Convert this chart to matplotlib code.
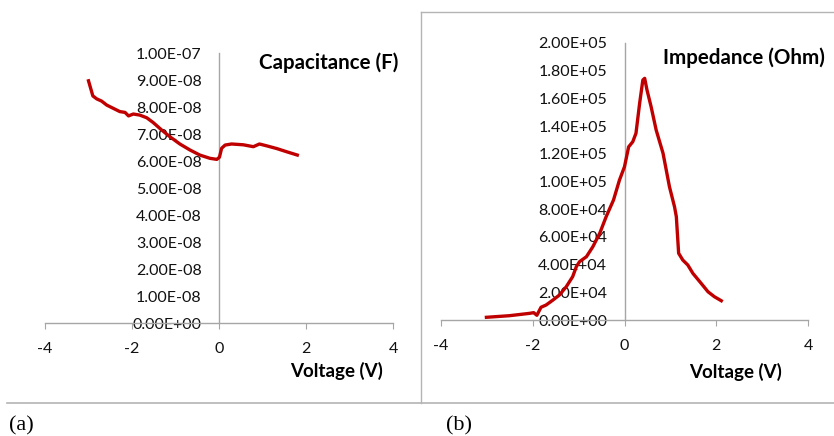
import matplotlib
matplotlib.use("Agg")
import matplotlib.pyplot as plt
from matplotlib.lines import Line2D

# ---- data ----
cap_v = [-3.00, -2.95, -2.90, -2.81, -2.70, -2.58, -2.43, -2.28, -2.16, -2.08, -1.97,
         -1.82, -1.66, -1.51, -1.32, -1.13, -0.90, -0.67, -0.44, -0.21, -0.05, 0.01,
         0.06, 0.14, 0.29, 0.56, 0.79, 0.93, 1.10, 1.33, 1.56, 1.80]
cap_f = [8.97e-8, 8.69e-8, 8.41e-8, 8.30e-8, 8.22e-8, 8.07e-8, 7.95e-8, 7.83e-8, 7.80e-8,
         7.67e-8, 7.74e-8, 7.70e-8, 7.60e-8, 7.42e-8, 7.15e-8, 6.90e-8, 6.63e-8, 6.41e-8,
         6.22e-8, 6.10e-8, 6.06e-8, 6.14e-8, 6.47e-8, 6.59e-8, 6.63e-8, 6.60e-8, 6.53e-8,
         6.63e-8, 6.56e-8, 6.46e-8, 6.34e-8, 6.22e-8]

imp_v = [-3.01, -2.51, -2.07, -1.98, -1.91, -1.82, -1.71, -1.56, -1.42, -1.27, -1.13,
         -1.05, -0.98, -0.83, -0.69, -0.54, -0.40, -0.24, -0.11, 0.00, 0.09, 0.18, 0.25,
         0.33, 0.40, 0.44, 0.49, 0.58, 0.69, 0.84, 0.98, 1.09, 1.13, 1.18, 1.27, 1.38,
         1.49, 1.67, 1.82, 1.96, 2.11]
imp_ohm = [1950, 3100, 4800, 5300, 3400, 9200, 10800, 14400, 18000, 24000, 31300,
           38500, 42100, 45700, 52900, 62600, 74600, 86600, 101000, 110700, 125000,
           128700, 134800, 156500, 173300, 174500, 166100, 154000, 137200, 120400,
           96200, 81800, 74600, 48200, 43300, 39700, 33700, 26500, 20400, 16800, 13900]

x_ticks = [-4, -2, 0, 2, 4]
cap_ticks = [i * 1e-8 for i in range(11)]
cap_labels = ["0.00E+00"] + ["%d.00E-08" % i for i in range(1, 10)] + ["1.00E-07"]
imp_ticks = [i * 2e4 for i in range(11)]
imp_labels = ["0.00E+00", "2.00E+04", "4.00E+04", "6.00E+04", "8.00E+04", "1.00E+05",
              "1.20E+05", "1.40E+05", "1.60E+05", "1.80E+05", "2.00E+05"]

W, H = 834, 436
fig = plt.figure(figsize=(W / 100, H / 100), dpi=100)
FONT = "Lato"
RED = "#c00000"
AXC = "#a6a6a6"
TFS = 14.8


def px(x0, y0, x1, y1):
    return [x0 / W, 1 - y1 / H, (x1 - x0) / W, (y1 - y0) / H]


def setup(ax, yticks, ylabels, ymax):
    ax.set_xlim(-4, 4)
    ax.set_ylim(0, ymax)
    ax.patch.set_alpha(0)
    for s in ("top", "right"):
        ax.spines[s].set_visible(False)
    ax.spines["left"].set_position(("data", 0))
    ax.spines["bottom"].set_position(("data", 0))
    for s in ("left", "bottom"):
        ax.spines[s].set_color(AXC)
        ax.spines[s].set_linewidth(1.0)
    ax.set_xticks(x_ticks)
    ax.set_xticklabels([str(t) for t in x_ticks], fontfamily=FONT, fontsize=11.5)
    ax.set_yticks(yticks)
    ax.set_yticklabels(ylabels, fontfamily=FONT, fontsize=11.5)
    ax.tick_params(axis="x", direction="out", length=4, color=AXC, pad=10, labelcolor="#111111")
    ax.tick_params(axis="y", length=0, pad=12.5, labelcolor="#111111")


# panel (a)
ax1 = fig.add_axes(px(45, 53, 393, 323))
setup(ax1, cap_ticks, cap_labels, 1e-7)
ax1.plot(cap_v, cap_f, color=RED, lw=2.4, zorder=3, solid_joinstyle="round")
fig.text(329 / W, 1 - 63 / H, "Capacitance (F)", ha="center", va="center",
         fontfamily=FONT, fontweight="bold", fontsize=TFS)
fig.text(337 / W, 1 - 371 / H, "Voltage (V)", ha="center", va="center",
         fontfamily=FONT, fontweight="bold", fontsize=13.5)

# panel (b)
ax2 = fig.add_axes(px(441, 43, 808, 320))
setup(ax2, imp_ticks, imp_labels, 2e5)
ax2.plot(imp_v, imp_ohm, color=RED, lw=2.4, zorder=3, solid_joinstyle="round")
fig.text(744 / W, 1 - 58 / H, "Impedance (Ohm)", ha="center", va="center",
         fontfamily=FONT, fontweight="bold", fontsize=TFS)
fig.text(736 / W, 1 - 372 / H, "Voltage (V)", ha="center", va="center",
         fontfamily=FONT, fontweight="bold", fontsize=13.5)

# frame lines
BC = "#b4b4b4"
fig.add_artist(Line2D([7 / W, 1], [1 - 403 / H, 1 - 403 / H], color=BC, lw=1.2))
fig.add_artist(Line2D([421 / W, 421 / W], [1 - 12 / H, 1 - 403 / H], color=BC, lw=1.0))
fig.add_artist(Line2D([421 / W, 1], [1 - 12 / H, 1 - 12 / H], color=BC, lw=1.0))

fig.text(9 / W, 1 - 426 / H, "(a)", ha="left", va="center",
         fontfamily="Liberation Serif", fontsize=16)
fig.text(446 / W, 1 - 426 / H, "(b)", ha="left", va="center",
         fontfamily="Liberation Serif", fontsize=16)

fig.savefig("out.png", dpi=100)
